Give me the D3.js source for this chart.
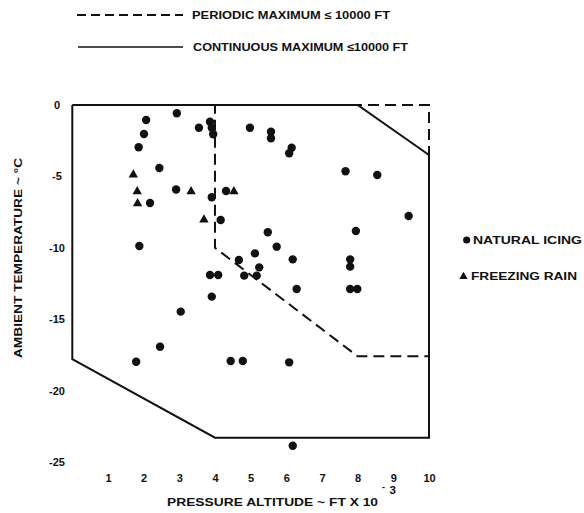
<!DOCTYPE html>
<html>
<head>
<meta charset="utf-8">
<script src="https://cdn.jsdelivr.net/npm/d3@7"></script>
<style>
  html, body { margin: 0; padding: 0; background: #fff; }
  svg text { font-family: "Liberation Sans", Arial, sans-serif; font-weight: bold; fill: #111; }
</style>
</head>
<body>
<svg id="chart" width="584" height="513"></svg>
<script>
// Natural icing encounters: pressure altitude (ft x 10^-3) and ambient temperature (°C)
const icingAlt = [2.07, 2.93, 2.01, 1.86, 2.44, 2.91, 2.18, 1.88, 3.55, 3.86, 3.91, 3.95,
  3.91, 4.16, 4.31, 3.86, 4.09, 3.91, 4.67, 4.82, 5.12, 5.24, 5.17, 5.48, 5.73, 6.18, 6.29,
  4.98, 5.57, 5.57, 6.15, 6.08, 7.66, 8.55, 9.43, 7.95, 7.79, 7.79, 7.79, 7.99, 3.04, 2.46,
  1.79, 4.44, 4.78, 6.08, 6.18];
const icingTemp = [-1.05, -0.58, -2.03, -2.96, -4.41, -5.92, -6.86, -9.87, -1.59, -1.17, -1.59, -2.05,
  -6.46, -8.05, -6.02, -11.9, -11.9, -13.42, -10.85, -11.95, -10.39, -11.37, -11.95, -8.91, -9.92, -10.81, -12.89,
  -1.59, -1.87, -2.33, -2.99, -3.38, -4.64, -4.9, -7.77, -8.82, -10.81, -11.32, -12.89, -12.89, -14.47, -16.93,
  -17.98, -17.93, -17.93, -18.02, -23.86];

// Freezing rain encounters
const rainAlt = [1.71, 1.82, 1.83, 3.33, 3.69, 4.53];
const rainTemp = [-4.83, -6.0, -6.84, -6.0, -7.98, -6.0];

// Design envelopes (closed outlines)
const continuousAlt = [0, 8, 10, 10, 4, 0, 0];
const continuousTemp = [0, 0, -3.5, -23.3, -23.3, -17.8, 0];
const periodicAlt = [4, 10, 10, 8, 4, 4];
const periodicTemp = [0, 0, -17.6, -17.6, -10, 0];

const xTicks = [1, 2, 3, 4, 5, 6, 7, 8, 9, 10];
const yTicks = [0, -5, -10, -15, -20, -25];

const svg = d3.select("#chart");

const x = d3.scaleLinear().domain([0, 10]).range([72.3, 429]);
const y = d3.scaleLinear().domain([0, -25]).range([105, 462]);

const line = d3.line().x(d => x(d[0])).y(d => y(d[1]));

// Continuous maximum envelope (solid)
svg.append("path")
  .attr("d", line(d3.zip(continuousAlt, continuousTemp)))
  .attr("fill", "none").attr("stroke", "#111").attr("stroke-width", 2)
  .attr("stroke-linejoin", "miter");

// Periodic maximum envelope (dashed)
svg.append("path")
  .attr("d", line(d3.zip(periodicAlt, periodicTemp)))
  .attr("fill", "none").attr("stroke", "#111").attr("stroke-width", 2)
  .attr("stroke-dasharray", "11,6");

// Axes: labels only, no domain or tick lines
const xAxis = svg.append("g").attr("transform", "translate(0,474)")
  .call(d3.axisBottom(x).tickValues(xTicks).tickSize(0).tickPadding(0).tickFormat(d3.format("d")));
xAxis.select(".domain").remove();
xAxis.selectAll("text").attr("font-size", 11).attr("font-family", null).attr("dy", "0.71em");

const yAxis = svg.append("g").attr("transform", "translate(57,0)")
  .call(d3.axisLeft(y).tickValues(yTicks).tickSize(0).tickPadding(0).tickFormat(d => d === 0 ? "0" : "-" + Math.abs(d)));
yAxis.select(".domain").remove();
yAxis.selectAll("text").attr("font-size", 11).attr("font-family", null).attr("text-anchor", "middle");

// Data marks
const tri = d3.symbol().type(d3.symbolTriangle).size(38);

svg.append("g").selectAll("circle")
  .data(d3.zip(icingAlt, icingTemp))
  .join("circle")
  .attr("cx", d => x(d[0])).attr("cy", d => y(d[1]))
  .attr("r", 4.2).attr("fill", "#111");

svg.append("g").selectAll("path")
  .data(d3.zip(rainAlt, rainTemp))
  .join("path")
  .attr("d", tri)
  .attr("transform", d => `translate(${x(d[0])},${y(d[1]) + 0.8})`)
  .attr("fill", "#111");

// Wide bold lettering: stretch glyphs to the set width
function label(sel, len) {
  return sel.attr("textLength", len).attr("lengthAdjust", "spacingAndGlyphs");
}

// Axis titles
label(svg.append("text")
  .attr("transform", "translate(21.5,258) rotate(-90)")
  .attr("text-anchor", "middle").attr("font-size", 11), 200)
  .text("AMBIENT TEMPERATURE ~ °C");

label(svg.append("text")
  .attr("x", 167).attr("y", 506).attr("font-size", 11), 211)
  .text("PRESSURE ALTITUDE ~ FT X 10");
svg.append("text").attr("x", 382).attr("y", 490).attr("font-size", 9).text("-");
svg.append("text").attr("x", 389.5).attr("y", 494).attr("font-size", 11.5).text("3");

// Envelope legend (top)
svg.append("line").attr("x1", 77).attr("x2", 183).attr("y1", 15).attr("y2", 15)
  .attr("stroke", "#111").attr("stroke-width", 2).attr("stroke-dasharray", "9,5");
label(svg.append("text").attr("x", 192).attr("y", 19).attr("font-size", 11), 198)
  .text("PERIODIC MAXIMUM ≤ 10000 FT");
svg.append("line").attr("x1", 78).attr("x2", 183).attr("y1", 47).attr("y2", 47)
  .attr("stroke", "#111").attr("stroke-width", 1.6);
label(svg.append("text").attr("x", 193).attr("y", 51).attr("font-size", 11), 215)
  .text("CONTINUOUS MAXIMUM ≤10000 FT");

// Marker legend (right)
svg.append("circle").attr("cx", 466.7).attr("cy", 240).attr("r", 3.6).attr("fill", "#111");
label(svg.append("text").attr("x", 473).attr("y", 244).attr("font-size", 11), 109)
  .text("NATURAL ICING");
svg.append("path").attr("d", d3.symbol().type(d3.symbolTriangle).size(30))
  .attr("transform", "translate(463.5,276.5)").attr("fill", "#111");
label(svg.append("text").attr("x", 471).attr("y", 280).attr("font-size", 11), 106)
  .text("FREEZING RAIN");
</script>
</body>
</html>
